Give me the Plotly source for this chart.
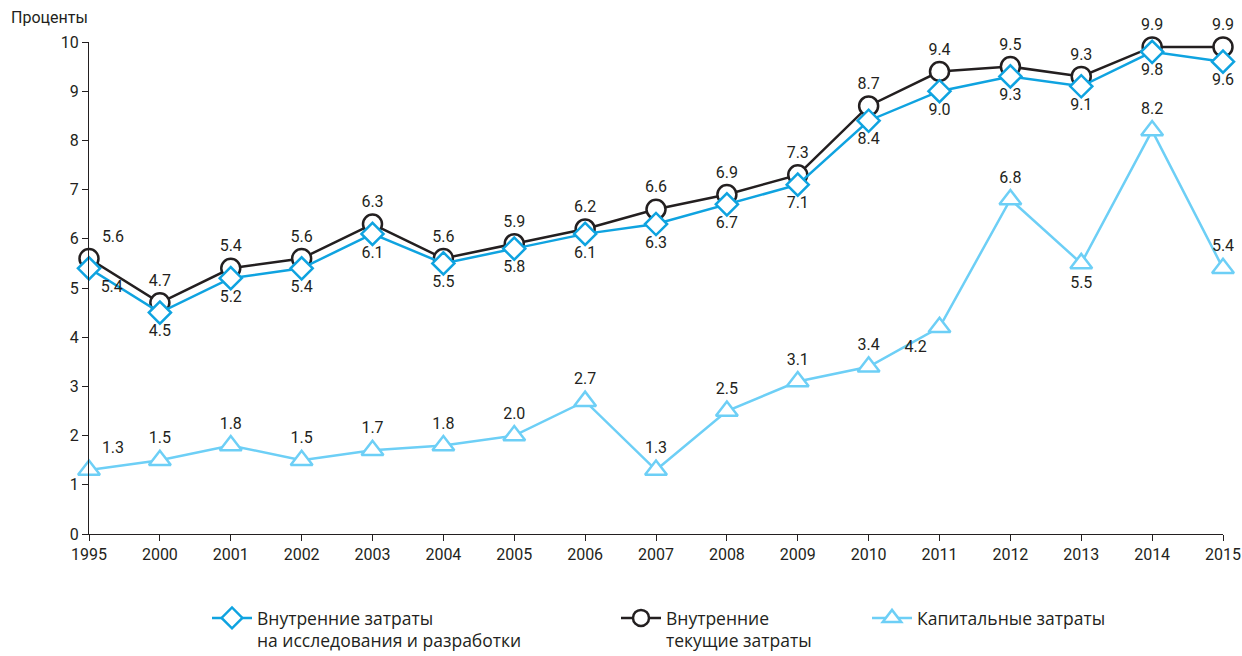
import plotly.graph_objects as go

years = ["1995", "2000", "2001", "2002", "2003", "2004", "2005", "2006", "2007",
         "2008", "2009", "2010", "2011", "2012", "2013", "2014", "2015"]
rd_internal = [5.4, 4.5, 5.2, 5.4, 6.1, 5.5, 5.8, 6.1, 6.3, 6.7, 7.1, 8.4, 9.0, 9.3, 9.1, 9.8, 9.6]
current_internal = [5.6, 4.7, 5.4, 5.6, 6.3, 5.6, 5.9, 6.2, 6.6, 6.9, 7.3, 8.7, 9.4, 9.5, 9.3, 9.9, 9.9]
capital = [1.3, 1.5, 1.8, 1.5, 1.7, 1.8, 2.0, 2.7, 1.3, 2.5, 3.1, 3.4, 4.2, 6.8, 5.5, 8.2, 5.4]
y_ticks = [0, 1, 2, 3, 4, 5, 6, 7, 8, 9, 10]

names = ["Внутренние затраты<br>на исследования и разработки",
         "Внутренние<br>текущие затраты",
         "Капитальные затраты"]

x = list(range(len(years)))
FONT = "Roboto, Liberation Sans Narrow, Arial"
LFONT = "Open Sans, Noto Sans, sans-serif"

pos_rd = ["bottom center"] * len(x)
pos_rd[0] = "bottom right"
pos_cur = ["top center"] * len(x)
pos_cur[0] = "top right"
pos_cap = ["top center"] * len(x)
pos_cap[0] = "top right"
pos_cap[12] = "bottom left"
pos_cap[14] = "bottom center"

fig = go.Figure()
fig.add_trace(go.Scatter(
    x=x, y=capital, mode="lines+markers+text", name=names[2],
    line=dict(color="#6DCFF6", width=2.5),
    marker=dict(symbol="triangle-up", size=19, color="white",
                line=dict(color="#6DCFF6", width=2.5)),
    text=[f"{v:.1f}" for v in capital], textposition=pos_cap,
    textfont=dict(family=FONT, size=16, color="#231F20"),
    cliponaxis=False, legend="legend3"))
fig.add_trace(go.Scatter(
    x=x, y=current_internal, mode="lines+markers+text", name=names[1],
    line=dict(color="#231F20", width=2.5),
    marker=dict(symbol="circle", size=19, color="white",
                line=dict(color="#231F20", width=2.5)),
    text=[f"{v:.1f}" for v in current_internal], textposition=pos_cur,
    textfont=dict(family=FONT, size=16, color="#231F20"),
    cliponaxis=False, legend="legend2"))
fig.add_trace(go.Scatter(
    x=x, y=rd_internal, mode="lines+markers+text", name=names[0],
    line=dict(color="#0FA3E0", width=2.5),
    marker=dict(symbol="diamond", size=17, color="white",
                line=dict(color="#0FA3E0", width=2.5)),
    text=[f"{v:.1f}" for v in rd_internal], textposition=pos_rd,
    textfont=dict(family=FONT, size=16, color="#231F20"),
    cliponaxis=False, legend="legend"))

leg_common = dict(orientation="h", yanchor="top", xanchor="left", valign="top",
                  xref="container", yref="container",
                  font=dict(family=LFONT, size=17.5, color="#231F20"),
                  bgcolor="rgba(0,0,0,0)", itemwidth=40)
LY = 1 - 600 / 656

fig.update_layout(
    width=1242, height=656,
    margin=dict(l=89, r=19, t=42, b=122, autoexpand=False),
    plot_bgcolor="white", paper_bgcolor="white",
    showlegend=True,
    legend=dict(x=207 / 1242, y=LY, **leg_common),
    legend2=dict(x=616 / 1242, y=LY, **leg_common),
    legend3=dict(x=867 / 1242, y=LY, **leg_common),
    xaxis=dict(range=[0, 16], tickvals=x, ticktext=years, showgrid=False,
               zeroline=False, showline=True, linecolor="#231F20", linewidth=1,
               ticks="outside", ticklen=6, tickcolor="#231F20", automargin=False,
               tickfont=dict(family=FONT, size=16, color="#231F20")),
    yaxis=dict(range=[0, 10], tickvals=y_ticks, showgrid=False, zeroline=False,
               showline=True, linecolor="#231F20", linewidth=1,
               ticks="outside", ticklen=6, tickcolor="#231F20", automargin=False,
               tickfont=dict(family=FONT, size=16, color="#231F20")),
    annotations=[dict(text="Проценты", xref="paper", yref="paper",
                      x=-80 / 1134, y=1 + 24 / 492, xanchor="left", yanchor="middle",
                      showarrow=False,
                      font=dict(family=FONT, size=16, color="#231F20"))],
)

fig.write_html("out.html", config={"displayModeBar": False},
               post_script="document.body.style.margin='0px';document.body.style.overflow='hidden';")
